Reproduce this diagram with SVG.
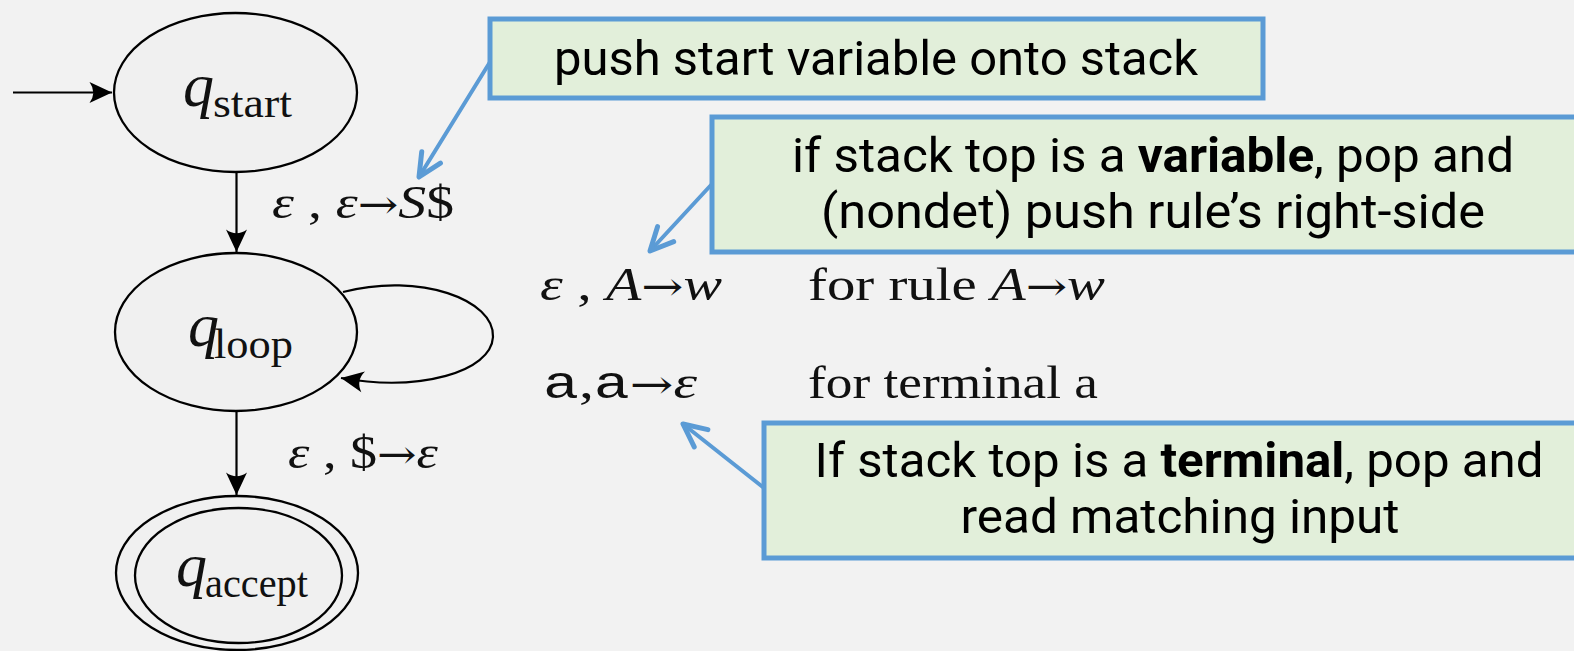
<svg xmlns="http://www.w3.org/2000/svg" width="1574" height="651" viewBox="0 0 1574 651">
<style>
.state{fill:#f0f0f0;stroke:#000;stroke-width:2.3}
.edge{fill:none;stroke:#000;stroke-width:2.2}
.callout{fill:none;stroke:#5b9bd5;stroke-width:4;stroke-linecap:round}
.box{fill:#e2efda;stroke:#5b9bd5;stroke-width:5}
.note{font-family:Roboto,"Liberation Sans",sans-serif;font-size:48px;fill:#000;text-anchor:middle}
.b{font-weight:bold}
.math{font-family:"Liberation Serif",serif;font-size:46px;fill:#111}
.it{font-style:italic}
.ar{font-family:"DejaVu Serif",serif;font-size:40px}
.tt{font-family:"Liberation Mono",monospace}
.q{font-family:"Liberation Serif",serif;font-size:62px;font-style:italic;fill:#111}
.sub{font-family:"Liberation Serif",serif;font-size:42px;fill:#111}
</style>
<defs>
<marker id="ah" markerUnits="userSpaceOnUse" markerWidth="30" markerHeight="30" viewBox="-16 -10 20 20" refX="0" refY="0" orient="auto">
<path d="M0,0 L-15,-7 Q-10,0 -15,7 Z" fill="#000"/>
</marker>
<marker id="bh" markerUnits="userSpaceOnUse" markerWidth="40" markerHeight="40" viewBox="-30 -20 36 40" refX="0" refY="0" orient="auto">
<path d="M-23,-11 L0,0 L-23,11" fill="none" stroke="#5b9bd5" stroke-width="5" stroke-linecap="round" stroke-linejoin="round"/>
</marker>
</defs>
<rect x="0" y="0" width="1574" height="651" fill="#f2f2f2"/>

<g id="q_start">
<ellipse class="state" cx="235.5" cy="92.5" rx="121.5" ry="79.5"/>
<text x="183" y="106" class="q">q</text>
<text x="213" y="117" class="sub" textLength="79" lengthAdjust="spacingAndGlyphs">start</text>
</g>
<g id="q_loop">
<ellipse class="state" cx="236" cy="332" rx="121" ry="79"/>
<text x="188" y="346" class="q">q</text>
<text x="214" y="358" class="sub" textLength="79" lengthAdjust="spacingAndGlyphs">loop</text>
</g>
<g id="q_accept">
<ellipse class="state" cx="237" cy="573" rx="121" ry="77"/>
<ellipse class="state" cx="238.5" cy="575.5" rx="103.5" ry="67.5"/>
<text x="176" y="586" class="q">q</text>
<text x="205" y="597" class="sub" textLength="103" lengthAdjust="spacingAndGlyphs">accept</text>
</g>

<g id="connectors">
<line class="edge" x1="13" y1="92.5" x2="112" y2="92.5" marker-end="url(#ah)"/>
<line class="edge" x1="236.5" y1="172" x2="236.5" y2="252" marker-end="url(#ah)"/>
<path class="edge" d="M343,292 C420,272 495,300 493,337 C491,372 420,392 341,378" marker-end="url(#ah)"/>
<line class="edge" x1="236.5" y1="411" x2="236.5" y2="495" marker-end="url(#ah)"/>
<line class="callout" x1="490" y1="62" x2="419" y2="177" marker-end="url(#bh)"/>
<line class="callout" x1="711" y1="185" x2="650" y2="251" marker-end="url(#bh)"/>
<line class="callout" x1="764" y1="488" x2="683" y2="424" marker-end="url(#bh)"/>
</g>

<g id="edge_labels">
<text x="272" y="218" class="math" textLength="182" lengthAdjust="spacingAndGlyphs"><tspan class="it">ε</tspan> , <tspan class="it">ε</tspan><tspan class="ar">→</tspan><tspan class="it">S</tspan>$</text>
<text x="288" y="468" class="math" textLength="150" lengthAdjust="spacingAndGlyphs"><tspan class="it">ε</tspan> , $<tspan class="ar">→</tspan><tspan class="it">ε</tspan></text>
<text x="540" y="300" class="math" textLength="182" lengthAdjust="spacingAndGlyphs"><tspan class="it">ε</tspan> , <tspan class="it">A</tspan><tspan class="ar">→</tspan><tspan class="it">w</tspan></text>
<text x="543" y="398" class="math" textLength="154" lengthAdjust="spacingAndGlyphs"><tspan class="tt">a</tspan>,<tspan class="tt">a</tspan><tspan class="ar">→</tspan><tspan class="it">ε</tspan></text>
<text x="808" y="300" class="math" textLength="297" lengthAdjust="spacingAndGlyphs">for rule <tspan class="it">A</tspan><tspan class="ar">→</tspan><tspan class="it">w</tspan></text>
<text x="808" y="398" class="math" textLength="290" lengthAdjust="spacingAndGlyphs">for terminal a</text>
</g>

<g id="note_push">
<rect class="box" x="490" y="19" width="773" height="79"/>
<text x="876" y="75" class="note" textLength="644" lengthAdjust="spacingAndGlyphs">push start variable onto stack</text>
</g>
<g id="note_variable">
<rect class="box" x="712" y="117" width="880" height="135"/>
<text x="1153" y="172" class="note" textLength="722" lengthAdjust="spacingAndGlyphs">if stack top is a <tspan class="b">variable</tspan>, pop and</text>
<text x="1153" y="228" class="note" textLength="664" lengthAdjust="spacingAndGlyphs">(nondet) push rule’s right-side</text>
</g>
<g id="note_terminal">
<rect class="box" x="764" y="423" width="830" height="135"/>
<text x="1179" y="477" class="note" textLength="729" lengthAdjust="spacingAndGlyphs">If stack top is a <tspan class="b">terminal</tspan>, pop and</text>
<text x="1180" y="533" class="note" textLength="439" lengthAdjust="spacingAndGlyphs">read matching input</text>
</g>
</svg>
